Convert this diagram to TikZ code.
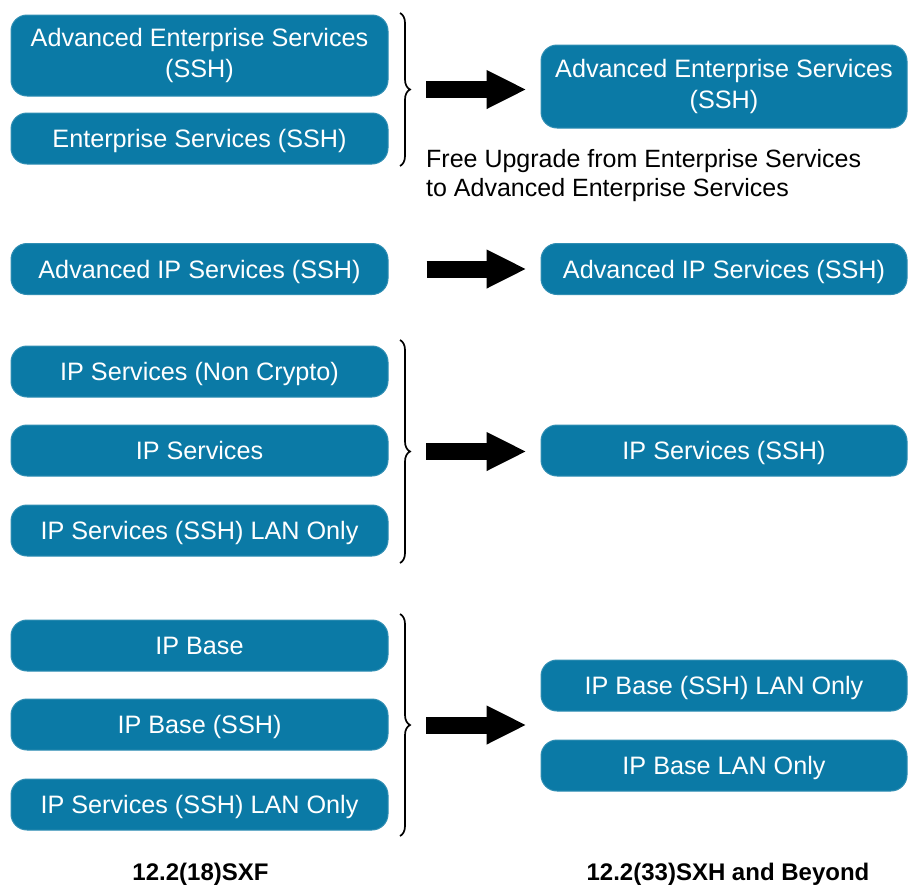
\documentclass[tikz,border=0pt]{standalone}
\usepackage{fontspec}
\setmainfont{Liberation Sans}
\usetikzlibrary{arrows.meta,decorations.pathreplacing}
\definecolor{boxblue}{RGB}{11,122,166}
\begin{document}
\begin{tikzpicture}[x=1pt,y=-1pt,
 box/.style={fill=boxblue, draw=boxblue!85!white, line width=1pt, rounded corners=16pt, text=white, align=center, font=\fontsize{25.2}{31}\selectfont, inner sep=0pt},
 lbox2/.style={box, minimum width=377pt},
 rbox2/.style={box, minimum width=366pt},
 lbox/.style={lbox2, minimum height=51pt, text height=18pt, text depth=0pt},
 rbox/.style={rbox2, minimum height=51pt, text height=18pt, text depth=0pt},
 brc/.style={decorate, decoration={brace, amplitude=10pt}, line width=1.7pt},
 fat/.style={line width=17pt, -{Triangle[length=40pt,width=36pt]}},
 lbl/.style={font=\fontsize{24}{28}\selectfont\bfseries, anchor=base, inner sep=0pt},
 ]
\useasboundingbox (0,0) rectangle (908,884);
% left column
\node[lbox2, minimum height=81pt] (l1) at (199.5,55.5) {Advanced Enterprise Services\\(SSH)};
\node[lbox] (l2) at (199.5,138.5) {Enterprise Services (SSH)};
\node[lbox] (l3) at (199.5,269) {Advanced IP Services (SSH)};
\node[lbox] (l4) at (199.5,371.5) {IP Services (Non Crypto)};
\node[lbox] (l5) at (199.5,450.5) {IP Services};
\node[lbox] (l6) at (199.5,530.5) {IP Services (SSH) LAN Only};
\node[lbox] (l7) at (199.5,645.5) {IP Base};
\node[lbox] (l8) at (199.5,724.5) {IP Base (SSH)};
\node[lbox] (l9) at (199.5,804.5) {IP Services (SSH) LAN Only};
% right column
\node[rbox2, minimum height=83pt] (r1) at (724,86.5) {Advanced Enterprise Services\\(SSH)};
\node[rbox] (r2) at (724,269) {Advanced IP Services (SSH)};
\node[rbox] (r3) at (724,450.5) {IP Services (SSH)};
\node[rbox] (r4) at (724,685.5) {IP Base (SSH) LAN Only};
\node[rbox] (r5) at (724,765.5) {IP Base LAN Only};
% braces
\coordinate (b1t) at (400,13);
\coordinate (b1b) at (400,166);
\coordinate (b1) at (412,89.5);
\draw[brc] (b1t) -- (b1b);
\coordinate (b2t) at (400,340);
\coordinate (b2b) at (400,563);
\coordinate (b2) at (412,451.5);
\draw[brc] (b2t) -- (b2b);
\coordinate (b3t) at (400,614);
\coordinate (b3b) at (400,836);
\coordinate (b3) at (412,725);
\draw[brc] (b3t) -- (b3b);
% arrows
\draw[fat] ([xshift=14pt]b1) -- ([xshift=-14pt]r1.west |- b1);
\draw[fat] ([xshift=38pt]l3.east) -- ([xshift=-14pt]r2.west);
\draw[fat] ([xshift=14pt]b2) -- ([xshift=-14pt]r3.west |- b2);
\draw[fat] ([xshift=14pt]b3) -- ([xshift=-14pt]r4.west |- b3);
% note
\node[anchor=base west, inner sep=0pt, align=left, font=\fontsize{25}{29}\selectfont] (note) at (426,196) {Free Upgrade from Enterprise Services\\to Advanced Enterprise Services};
% column labels
\node[lbl] (c1) at (200.5,880) {12.2(18)SXF};
\node[lbl] (c2) at (728,880) {12.2(33)SXH and Beyond};
\end{tikzpicture}
\end{document}
